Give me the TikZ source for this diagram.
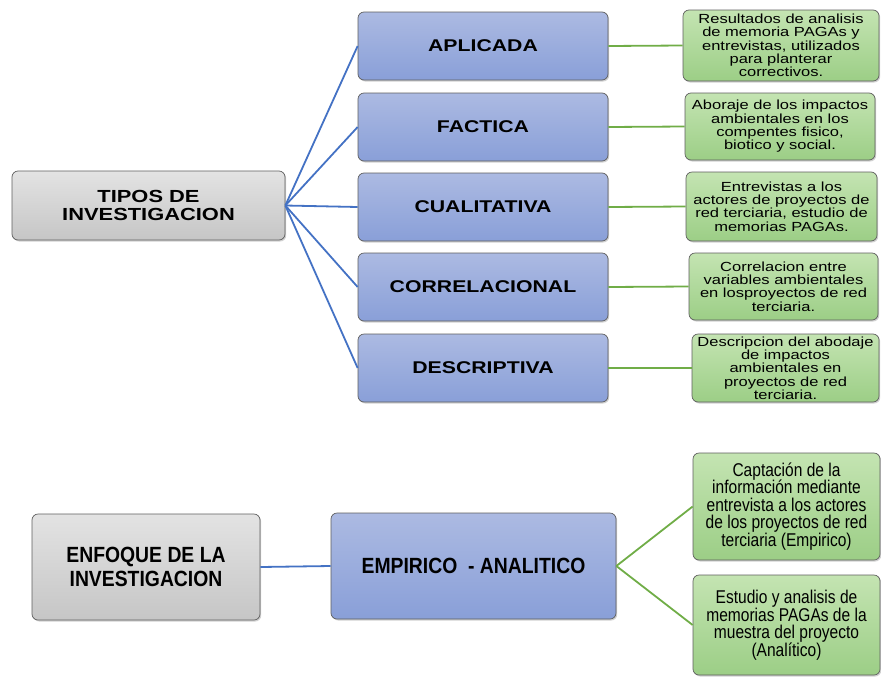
\documentclass[tikz,border=0pt]{standalone}
\usepackage{fontspec}
\setmainfont{Liberation Sans}
\newfontfamily\widef[FakeStretch=1.25]{Liberation Sans}
\newfontfamily\narrowf[FakeStretch=0.88]{Liberation Sans}
\newfontfamily\narrowg[FakeStretch=0.84]{Liberation Sans}
\usetikzlibrary{shadows}
\definecolor{bordc}{HTML}{5E5E5E}
\definecolor{blueline}{HTML}{4472C4}
\definecolor{greenline}{HTML}{70AD47}
\tikzset{
  box/.style={draw=bordc, line width=0.7pt, rounded corners=6pt, inner sep=0pt, align=center,
    drop shadow={shadow xshift=1.2pt, shadow yshift=-1.5pt, fill=black!40, opacity=0.45}},
  graybox/.style={box, top color=gray!22, bottom color=gray!45},
  bluebox/.style={box, top color={rgb,255:red,172;green,186;blue,226}, bottom color={rgb,255:red,137;green,159;blue,216}},
  greenbox/.style={box, top color={rgb,255:red,196;green,228;blue,178}, bottom color={rgb,255:red,156;green,206;blue,134}},
  bline/.style={draw=blueline, line width=1.8pt},
  gline/.style={draw=greenline, line width=1.8pt},
  toptitle/.style={font=\widef\bfseries\fontsize{17}{19}\selectfont},
  topnote/.style={font=\widef\fontsize{13.2}{13.3}\selectfont},
  bottitle/.style={font=\narrowf\bfseries\fontsize{22}{24}\selectfont},
  botnote/.style={font=\narrowg\fontsize{18.5}{17.5}\selectfont},
}
\begin{document}
\begin{tikzpicture}[x=1pt, y=-1pt]
\useasboundingbox (0,0) rectangle (881,678);
% top section
\node[graybox, minimum width=273pt, minimum height=69pt, font=\widef\bfseries\fontsize{17.5}{18}\selectfont] (tipos) at (148.5,205.5) {TIPOS DE\\INVESTIGACION};

\node[bluebox, toptitle, minimum width=250pt, minimum height=68pt] (apl) at (483,46) {APLICADA};
\node[bluebox, toptitle, minimum width=250pt, minimum height=68pt] (fac) at (483,127) {FACTICA};
\node[bluebox, toptitle, minimum width=250pt, minimum height=68pt] (cua) at (483,207) {CUALITATIVA};
\node[bluebox, toptitle, minimum width=250pt, minimum height=68pt] (cor) at (483,287) {CORRELACIONAL};
\node[bluebox, toptitle, minimum width=250pt, minimum height=68pt] (des) at (483,368) {DESCRIPTIVA};

\node[greenbox, topnote, minimum width=196pt, minimum height=71pt] (g1) at (781,45.5) {Resultados de analisis\\de memoria PAGAs y\\entrevistas, utilizados\\para planterar\\correctivos.};
\node[greenbox, topnote, minimum width=190pt, minimum height=67pt] (g2) at (780,126.5) {Aboraje de los impactos\\ambientales en los\\compentes fisico,\\biotico y social.};
\node[greenbox, topnote, minimum width=191pt, minimum height=69pt] (g3) at (781.5,206.5) {Entrevistas a los\\actores de proyectos de\\red terciaria, estudio de\\memorias PAGAs.};
\node[greenbox, topnote, minimum width=189pt, minimum height=67pt] (g4) at (783.5,286.5) {Correlacion entre\\variables ambientales\\en losproyectos de red\\terciaria.};
\node[greenbox, topnote, minimum width=187pt, minimum height=68pt] (g5) at (785.5,368) {Descripcion del abodaje\\de impactos\\ambientales en\\proyectos de red\\terciaria.};

\foreach \b in {apl,fac,cua,cor,des} \draw[bline] (tipos.east) -- (\b.west);
\draw[gline] (apl.east) -- (g1.west);
\draw[gline] (fac.east) -- (g2.west);
\draw[gline] (cua.east) -- (g3.west);
\draw[gline] (cor.east) -- (g4.west);
\draw[gline] (des.east) -- (g5.west);

% bottom section
\node[graybox, bottitle, minimum width=228pt, minimum height=106pt] (enf) at (146,567) {ENFOQUE DE LA\\INVESTIGACION};
\node[bluebox, bottitle, minimum width=285pt, minimum height=106pt] (emp) at (473.5,566) {EMPIRICO~~- ANALITICO};
\node[greenbox, botnote, minimum width=187pt, minimum height=107pt] (g6) at (786.5,506.5) {Captación de la\\información mediante\\entrevista a los actores\\de los proyectos de red\\terciaria (Empirico)};
\node[greenbox, botnote, minimum width=187pt, minimum height=100pt] (g7) at (786.5,625) {Estudio y analisis de\\memorias PAGAs de la\\muestra del proyecto\\(Analítico)};

\draw[bline] (enf.east) -- (emp.west);
\draw[gline] (emp.east) -- (g6.west);
\draw[gline] (emp.east) -- (g7.west);
\end{tikzpicture}
\end{document}
